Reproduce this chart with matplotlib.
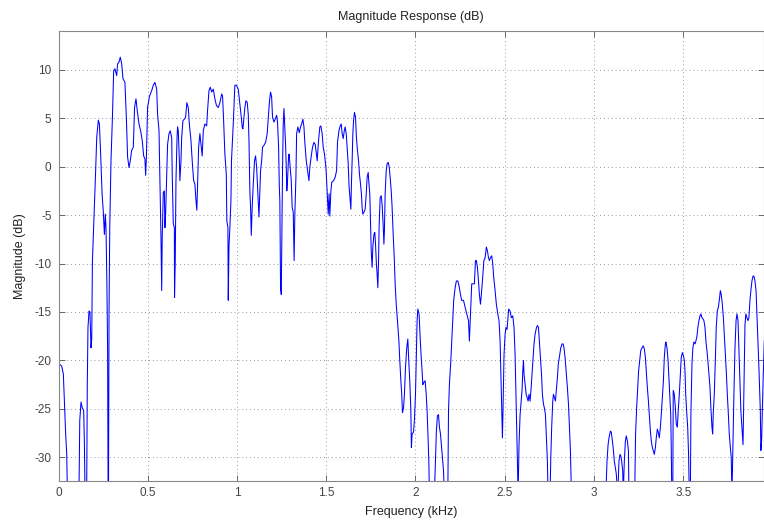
import matplotlib
matplotlib.use('Agg')
import matplotlib.pyplot as plt

plt.rcParams['font.family'] = ['Liberation Sans', 'DejaVu Sans']
plt.rcParams['axes.unicode_minus'] = False

# Magnitude response.
# Values below about -32 dB lie outside the axis and only shape the dips.
freq_khz = [
    0.000, 0.018, 0.027, 0.033, 0.040, 0.046, 0.049, 0.080, 0.115, 0.119,
    0.126, 0.133, 0.141, 0.145, 0.148, 0.153, 0.158, 0.161, 0.165, 0.171,
    0.176, 0.182, 0.186, 0.190, 0.199, 0.208, 0.214, 0.223, 0.229, 0.236,
    0.244, 0.251, 0.257, 0.262, 0.266, 0.271, 0.275, 0.279, 0.283, 0.287,
    0.294, 0.302, 0.309, 0.316, 0.326, 0.331, 0.339, 0.346, 0.354, 0.361,
    0.372, 0.380, 0.387, 0.395, 0.402, 0.410, 0.419, 0.426, 0.434, 0.441,
    0.451, 0.460, 0.469, 0.477, 0.484, 0.488, 0.492, 0.499, 0.510,
    0.522, 0.531, 0.540, 0.550, 0.555, 0.563, 0.568, 0.574, 0.578, 0.581,
    0.587, 0.593, 0.596, 0.600, 0.606, 0.611, 0.619, 0.626, 0.634, 0.637,
    0.643, 0.649, 0.650, 0.654, 0.658, 0.664, 0.667, 0.671, 0.677, 0.680,
    0.686, 0.690, 0.697, 0.705, 0.712, 0.719, 0.727, 0.733, 0.742, 0.749,
    0.757, 0.764, 0.770, 0.775, 0.779, 0.785, 0.792, 0.798, 0.805, 0.811,
    0.820, 0.830, 0.835, 0.843, 0.850, 0.858, 0.867, 0.876, 0.885, 0.895,
    0.904, 0.914, 0.919, 0.925, 0.932, 0.940, 0.943, 0.949, 0.951, 0.955,
    0.960, 0.966, 0.969, 0.979, 0.988, 0.997, 1.007, 1.016,
    1.024, 1.029, 1.033, 1.039, 1.044, 1.050, 1.057, 1.063, 1.067, 1.072,
    1.076, 1.080, 1.085, 1.091, 1.098, 1.104, 1.110, 1.117, 1.123, 1.126,
    1.132, 1.138, 1.143, 1.151, 1.160, 1.169, 1.177, 1.182, 1.188, 1.194,
    1.199, 1.207, 1.214, 1.222, 1.227, 1.233, 1.237, 1.240, 1.244, 1.248,
    1.251, 1.255, 1.259, 1.263, 1.266, 1.272, 1.276, 1.279, 1.283, 1.289,
    1.292, 1.298, 1.304, 1.309, 1.315, 1.320, 1.324, 1.330, 1.334, 1.341,
    1.349, 1.356, 1.362, 1.369, 1.375, 1.380, 1.388, 1.393, 1.403, 1.408,
    1.416, 1.423, 1.431, 1.438, 1.445, 1.449, 1.457, 1.464, 1.470, 1.477,
    1.483, 1.490, 1.498, 1.503, 1.511,
    1.516, 1.520, 1.526, 1.531, 1.541, 1.550, 1.558, 1.563, 1.571, 1.578,
    1.584, 1.589, 1.595, 1.601, 1.606, 1.612, 1.617, 1.623, 1.628, 1.634,
    1.638, 1.641, 1.645, 1.649, 1.653, 1.658, 1.664, 1.669, 1.675, 1.681,
    1.686, 1.692, 1.697, 1.701, 1.705, 1.711, 1.718, 1.724, 1.729, 1.735,
    1.738, 1.744, 1.748, 1.752, 1.757, 1.761, 1.767, 1.772, 1.776, 1.781,
    1.785, 1.789, 1.793, 1.796, 1.802, 1.808, 1.813, 1.819, 1.823, 1.826,
    1.830, 1.836, 1.841, 1.847, 1.853, 1.858, 1.864, 1.869, 1.875, 1.881,
    1.886, 1.892, 1.899, 1.907, 1.912, 1.918, 1.923, 1.927, 1.933, 1.938,
    1.944, 1.951, 1.957, 1.962, 1.968, 1.974, 1.977, 1.981, 1.989, 1.994,
    2.000, 2.005, 2.009,
    2.013, 2.020, 2.026, 2.032, 2.037, 2.041, 2.046, 2.054, 2.060, 2.065,
    2.071, 2.075, 2.078, 2.092, 2.106, 2.112, 2.117, 2.123, 2.129, 2.134,
    2.140, 2.145, 2.151, 2.157, 2.162, 2.172, 2.181, 2.185, 2.190, 2.198,
    2.203, 2.209, 2.214, 2.222, 2.229, 2.237, 2.244, 2.252, 2.259, 2.269,
    2.278, 2.287, 2.297, 2.302, 2.308, 2.315, 2.323, 2.330, 2.336, 2.341,
    2.347, 2.353, 2.358, 2.364, 2.369, 2.375, 2.383, 2.390, 2.397, 2.403,
    2.409, 2.414, 2.420, 2.427, 2.433, 2.438, 2.446, 2.453, 2.461, 2.468,
    2.474, 2.479, 2.483, 2.487, 2.491, 2.496, 2.502, 2.507, 2.513,
    2.522, 2.530, 2.537, 2.545, 2.552, 2.558, 2.563, 2.567, 2.571, 2.575,
    2.580, 2.586, 2.591, 2.597, 2.601, 2.605, 2.608, 2.614, 2.620, 2.625,
    2.631, 2.636, 2.642, 2.648, 2.653, 2.659, 2.664, 2.670, 2.678, 2.683,
    2.689, 2.694, 2.700, 2.706, 2.711, 2.717, 2.722, 2.728, 2.734, 2.739,
    2.743, 2.749, 2.754, 2.758, 2.763, 2.769, 2.773, 2.778, 2.784, 2.789,
    2.795, 2.800, 2.806, 2.814, 2.821, 2.827, 2.832, 2.838, 2.844, 2.851,
    2.857, 2.862, 2.868, 2.874,
    2.970, 3.066, 3.073, 3.079, 3.084, 3.092, 3.097, 3.103, 3.109, 3.114,
    3.120, 3.125, 3.133, 3.140, 3.146, 3.151, 3.155, 3.161, 3.164, 3.170,
    3.176, 3.181, 3.187, 3.193, 3.196, 3.212, 3.228, 3.233, 3.239, 3.245,
    3.250, 3.256, 3.262, 3.269, 3.276, 3.282, 3.288, 3.293, 3.299, 3.305,
    3.310, 3.316, 3.321, 3.327, 3.332, 3.338, 3.344, 3.349, 3.355, 3.360,
    3.366, 3.372, 3.377, 3.383, 3.389, 3.394, 3.400, 3.403, 3.409, 3.415,
    3.420, 3.424, 3.430, 3.433, 3.437, 3.441, 3.444, 3.450, 3.456, 3.461,
    3.467, 3.472, 3.478, 3.484, 3.489, 3.495, 3.501, 3.506,
    3.510, 3.514, 3.519, 3.525, 3.530, 3.534, 3.540, 3.543, 3.549, 3.554,
    3.560, 3.566, 3.571, 3.577, 3.582, 3.588, 3.594, 3.599, 3.605, 3.610,
    3.616, 3.622, 3.627, 3.633, 3.638, 3.644, 3.650, 3.655, 3.661, 3.665,
    3.668, 3.674, 3.680, 3.685, 3.691, 3.697, 3.702, 3.708, 3.713, 3.719,
    3.725, 3.730, 3.736, 3.742, 3.747, 3.753, 3.758, 3.764, 3.769, 3.773,
    3.779, 3.784, 3.790, 3.796, 3.801, 3.807, 3.812, 3.818, 3.823, 3.829,
    3.835, 3.840, 3.846, 3.851, 3.857, 3.863, 3.868, 3.874, 3.879, 3.885,
    3.891, 3.896, 3.902, 3.908, 3.913, 3.919, 3.924, 3.928, 3.932, 3.935,
    3.939, 3.943, 3.948, 3.954,
]

mag_db = [
    -20.3, -20.6, -21.4, -24.2, -27.6, -29.7, -33, -40, -33, -26.2,
    -24.3, -24.9, -25.2, -28.6, -33, -40, -33, -22.8, -16.6, -14.9,
    -15.0, -18.7, -17.8, -9.7, -5.2, -0.4, 3.0, 4.8, 4.4, 1.3,
    -2.8, -4.7, -7.0, -4.9, -6.3, -12.1, -19.0, -40, -15, -6.3,
    0.6, 5.1, 9.9, 10.1, 9.4, 10.6, 10.8, 11.3, 10.6, 9.1,
    8.7, 5.1, 1.0, -0.1, 0.6, 1.7, 2.0, 6.1, 7.0, 5.8,
    4.4, 3.7, 2.7, 1.1, 0.8, -0.9, 0.8, 6.1, 7.3,
    7.85, 8.4, 8.7, 8.0, 5.4, 3.7, -1.45, -7.3, -12.8, -7.3,
    -2.65, -2.5, -6.3, -4.9, -0.76, 2.3, 3.4, 3.7, 3.0, -0.76,
    -5.9, -6.3, -13.5, -9.7, -1.45, 3.0, 4.1, 3.7, 0.6, -1.45,
    0.6, 3.0, 4.75, 4.9, 5.1, 6.6, 6.1, 4.4, 2.7, 0.6,
    -1.45, -1.8, -3.5, -4.5, -1.8, 2.0, 3.4, 2.3, 1.1, 3.7,
    4.4, 4.2, 5.8, 7.85, 8.2, 7.7, 8.0, 7.0, 6.3, 6.1,
    6.6, 7.5, 7.3, 4.75, 1.3, -0.76, -5.6, -6.3, -13.8, -8.3,
    -6.3, -3.5, 0.6, 4.4, 8.4, 8.4, 8.0, 6.45,
    5.1, 4.1, 3.9, 5.1, 6.1, 6.8, 6.65, 5.4, 2.7, -2.5,
    -4.2, -7.1, -4.2, -1.8, 0.6, 1.1, -0.07, -2.8, -5.2, -3.5,
    -0.4, 0.6, 2.0, 2.2, 2.5, 3.4, 5.4, 6.8, 7.7, 7.2,
    5.1, 4.6, 4.9, 5.3, 4.6, 2.0, -2.1, -3.5, -12.5, -13.2,
    -7.6, -0.4, 4.4, 6.0, 4.75, 2.3, -0.07, -2.5, -1.45, 1.1,
    1.3, -0.07, -1.45, -4.2, -4.7, -9.7, -4.9, -1.1, 3.4, 4.1,
    3.5, 4.1, 4.4, 4.9, 4.1, 2.5, 0.6, -0.07, -1.45, -0.07,
    1.1, 2.0, 2.5, 2.3, 1.3, 0.6, 2.7, 4.1, 4.2, 3.4,
    2.0, 1.3, -0.07, -1.8, -4.9,
    -2.8, -5.1, -2.5, -1.6, -1.45, -1.1, -0.4, 2.5, 3.7, 4.2,
    4.4, 3.4, 2.9, 3.7, 4.1, 3.4, 2.0, 0.3, -2.1, -3.5,
    -4.4, -1.8, 0.6, 3.4, 4.75, 5.6, 5.1, 3.0, 1.65, 0.6,
    -0.76, -1.8, -2.8, -4.2, -4.9, -4.7, -4.4, -2.8, -1.1, -0.6,
    -1.45, -2.8, -5.9, -8.7, -10.4, -8.3, -7.0, -6.8, -8.0, -10.05,
    -11.1, -12.5, -9.7, -6.3, -3.2, -3.0, -3.9, -6.1, -8.0, -6.6,
    -2.8, -0.4, 0.3, 0.45, -0.07, -1.1, -2.5, -4.2, -7.0, -9.4,
    -12.1, -14.2, -15.9, -18.0, -20.0, -22.1, -23.5, -25.4, -24.9, -23.5,
    -20.7, -18.7, -17.8, -20.0, -22.1, -25.2, -29.0, -27.6, -27.4, -26.2,
    -23.5, -19.0, -15.9,
    -14.7, -15.2, -17.6, -19.7, -21.1, -22.5, -22.3, -22.1, -23.5, -25.2,
    -28.3, -30.7, -33.8, -40, -33.8, -30.4, -27.3, -25.7, -25.6, -26.9,
    -27.6, -28.7, -30.0, -31.4, -34, -40, -34, -25.2, -22.5, -20.0,
    -18.0, -15.6, -13.8, -12.5, -11.8, -11.8, -12.3, -13.2, -13.8, -13.8,
    -14.5, -15.2, -15.9, -18.0, -15.2, -12.1, -12.1, -12.1, -9.7, -9.7,
    -10.4, -11.8, -13.2, -14.2, -13.2, -11.8, -9.7, -9.4, -8.3, -8.7,
    -9.4, -9.7, -9.4, -9.2, -10.05, -11.4, -12.8, -14.2, -15.2, -15.9,
    -18.0, -21.8, -24.5, -28.0, -24.5, -19.4, -17.3, -16.6, -16.8,
    -14.7, -14.9, -15.6, -15.4, -16.6, -19.4, -23.5, -26.9, -30.4, -34,
    -28.7, -25.6, -24.5, -23.1, -21.1, -20.0, -21.4, -22.5, -23.5, -23.8,
    -24.2, -23.5, -24.2, -22.8, -21.4, -19.7, -18.3, -17.3, -16.6, -16.4,
    -16.6, -18.0, -19.7, -21.4, -23.5, -24.5, -24.9, -25.6, -28.3, -30.4,
    -34, -40, -34, -30.0, -26.9, -24.2, -23.5, -23.8, -24.2, -23.1,
    -21.8, -20.4, -19.7, -18.7, -18.3, -18.3, -18.7, -19.7, -21.1, -22.8,
    -24.5, -26.6, -29.3, -34,
    -45, -34, -30.4, -28.7, -28.0, -27.3, -27.4, -28.3, -29.3, -30.4,
    -31.1, -31.7, -34, -30.4, -29.7, -29.9, -30.4, -31.4, -34, -30.4,
    -28.3, -27.8, -28.3, -29.3, -34, -40, -34, -27.6, -24.9, -22.8,
    -21.1, -20.0, -19.0, -18.7, -18.5, -18.8, -19.7, -21.1, -22.8, -24.2,
    -25.6, -27.3, -28.3, -29.0, -29.3, -29.7, -29.0, -28.0, -27.1, -27.4,
    -28.0, -26.9, -25.6, -23.8, -22.1, -19.7, -18.3, -18.1, -18.7, -20.0,
    -21.8, -23.1, -25.6, -29.0, -36, -36, -23.1, -23.5, -24.9, -26.6,
    -26.9, -25.2, -23.5, -21.4, -19.7, -19.2, -19.5, -20.0,
    -21.1, -23.5, -25.2, -26.9, -29.7, -34, -34, -25.6, -20.4, -18.7,
    -18.1, -18.3, -18.0, -17.5, -16.6, -15.9, -15.4, -15.2, -15.6, -15.7,
    -15.9, -16.6, -18.0, -19.0, -20.0, -21.4, -22.8, -24.9, -26.9, -27.6,
    -25.6, -23.5, -20.0, -16.6, -14.9, -14.5, -13.8, -12.8, -13.2, -14.2,
    -15.6, -17.3, -19.4, -21.4, -23.5, -25.6, -27.6, -29.0, -30.0, -34,
    -28.3, -23.5, -18.7, -15.9, -15.2, -15.9, -18.7, -22.1, -25.2, -26.9,
    -28.7, -22.8, -16.3, -15.2, -15.6, -15.9, -15.6, -13.8, -12.8, -11.8,
    -11.3, -11.3, -11.8, -12.8, -15.2, -18.0, -20.7, -22.8, -25.2, -29.3,
    -28.3, -25.2, -21.8, -18.0,
]

xticks = [0, 0.5, 1, 1.5, 2, 2.5, 3, 3.5]
xticklabels = ['0', '0.5', '1', '1.5', '2', '2.5', '3', '3.5']
yticks = [-30, -25, -20, -15, -10, -5, 0, 5, 10]

fig = plt.figure(figsize=(7.64, 5.21), dpi=100)
ax = fig.add_axes([0.0766, 0.0777, 0.9228, 0.8628])

ax.plot(freq_khz, mag_db, color='#0000ff', linewidth=0.75)

ax.set_xlim(0, 3.95)
ax.set_ylim(-32.4, 14.0)
ax.set_xticks(xticks)
ax.set_xticklabels(xticklabels)
ax.set_yticks(yticks)

ax.grid(True, color='#999999', linestyle=(0, (1, 3)), linewidth=0.7)
ax.tick_params(direction='in', length=4, width=0.6, colors='#555555',
               labelsize=8.5, labelcolor='#444444', pad=5,
               top=True, right=True)
for s in ax.spines.values():
    s.set_color('#888888')
    s.set_linewidth(0.8)

ax.set_title('Magnitude Response (dB)', fontsize=9, color='#222222', pad=8)
ax.set_xlabel('Frequency (kHz)', fontsize=9, color='#222222', labelpad=5)
ax.set_ylabel('Magnitude (dB)', fontsize=9, color='#222222', labelpad=6)

fig.savefig('out.png', dpi=100)
